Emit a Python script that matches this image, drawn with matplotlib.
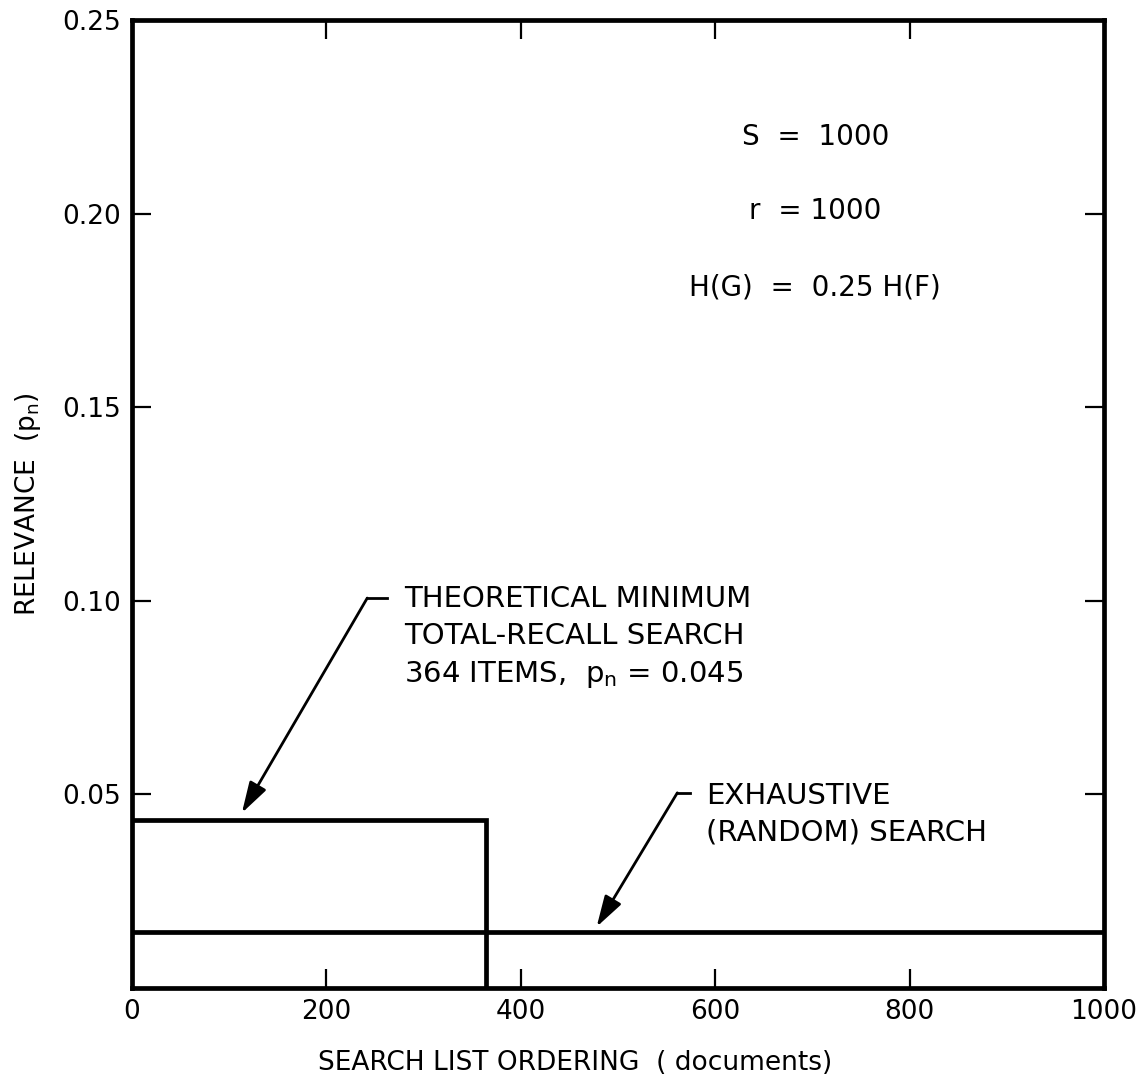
import matplotlib
matplotlib.use('Agg')
import matplotlib.pyplot as plt

# ── Data ──────────────────────────────────────────────────────────────────────
min_search_x = [0, 364, 364]          # theoretical minimum total-recall search
min_search_y = [0.0434, 0.0434, 0.0]
exh_search_x = [0, 1000]              # exhaustive (random) search
exh_search_y = [0.0145, 0.0145]

x_ticks = [0, 200, 400, 600, 800, 1000]
x_tick_labels = ['0', '200', '400', '600', '800', '1000']
y_ticks = [0.05, 0.10, 0.15, 0.20, 0.25]
y_tick_labels = ['0.05', '0.10', '0.15', '0.20', '0.25']

params_text = ['S  =  1000', 'r  = 1000', 'H(G)  =  0.25 H(F)']
params_y = [0.2198, 0.2007, 0.1808]

plt.rcParams.update({
    'font.family': 'DejaVu Sans',
    'mathtext.fontset': 'dejavusans',
    'font.size': 19,
})

fig = plt.figure(figsize=(11.48, 10.85), dpi=100)
ax = fig.add_axes([0.115, 0.0894, 0.8467, 0.8922])

lw = 3.4
ax.plot(min_search_x, min_search_y, color='black', lw=lw, solid_joinstyle='miter')
ax.plot(exh_search_x, exh_search_y, color='black', lw=lw)

ax.set_xlim(0, 1000)
ax.set_ylim(0, 0.25)

for s in ax.spines.values():
    s.set_linewidth(3.4)

ax.set_xticks(x_ticks)
ax.set_xticklabels(x_tick_labels)
ax.set_yticks(y_ticks)
ax.set_yticklabels(y_tick_labels)
ax.tick_params(direction='in', length=14, width=1.6, top=True, right=True,
               labelsize=19, pad=8)
# inward ticks only at the interior positions
for t in ax.xaxis.get_major_ticks():
    if t.get_loc() in (0, 1000):
        t.tick1line.set_visible(False)
        t.tick2line.set_visible(False)
for t in ax.yaxis.get_major_ticks():
    if t.get_loc() == 0.25:
        t.tick1line.set_visible(False)
        t.tick2line.set_visible(False)

ax.set_xlabel('SEARCH LIST ORDERING  ( documents)', fontsize=19)
ax.xaxis.set_label_coords(0.456, -0.064)
ax.set_ylabel(r'RELEVANCE  ($\mathregular{p_n}$)', fontsize=19, labelpad=14)

# parameter block
for txt, yv in zip(params_text, params_y):
    ax.text(703, yv, txt, ha='center', va='center', fontsize=20)

# annotations with leader + arrow
arrow = dict(arrowstyle='-|>,head_length=1.0,head_width=0.3', color='black',
             lw=2.0, shrinkA=0, shrinkB=0)
ax.plot([242, 262], [0.1007, 0.1007], color='black', lw=2.0)
ax.annotate('', xy=(113, 0.0452), xytext=(242, 0.1007), arrowprops=arrow)
ax.text(280, 0.0904, 'THEORETICAL MINIMUM\nTOTAL-RECALL SEARCH\n'
        r'364 ITEMS,  $\mathregular{p_n}$ = 0.045',
        ha='left', va='center', fontsize=21, linespacing=1.4)

ax.plot([561, 574], [0.0504, 0.0504], color='black', lw=2.0)
ax.annotate('', xy=(478, 0.0158), xytext=(561, 0.0504), arrowprops=arrow)
ax.text(591, 0.0448, 'EXHAUSTIVE\n(RANDOM) SEARCH',
        ha='left', va='center', fontsize=21, linespacing=1.4)

fig.savefig('out.png', dpi=100)
